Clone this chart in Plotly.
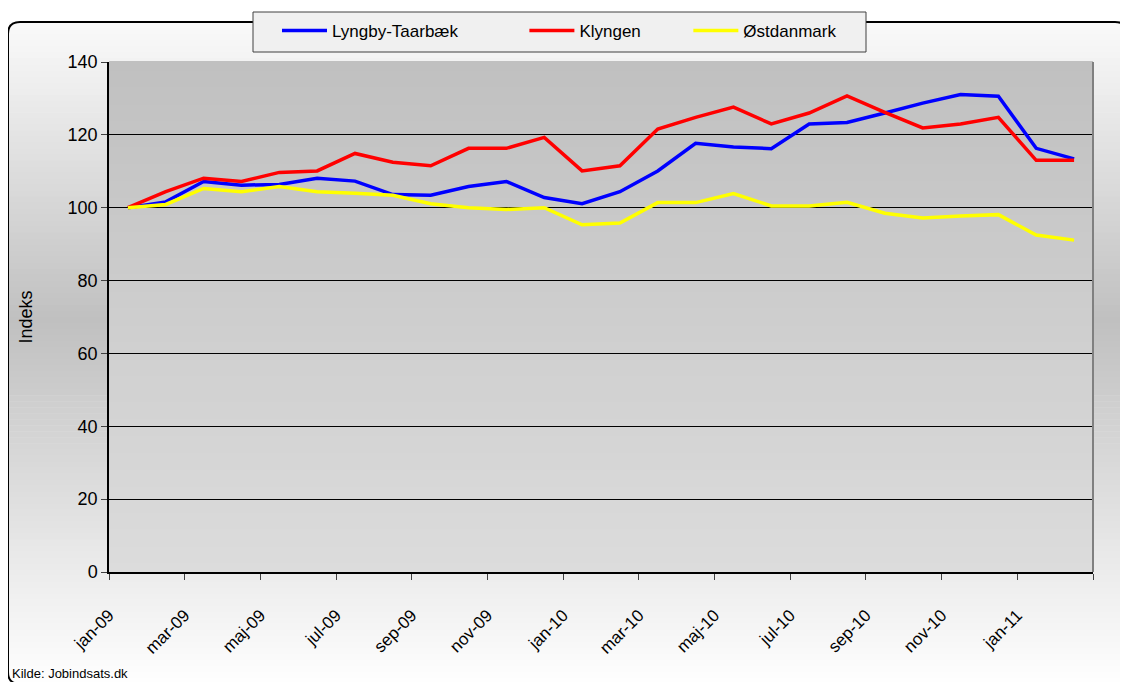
import plotly.graph_objects as go

months = ["jan-09", "feb-09", "mar-09", "apr-09", "maj-09", "jun-09", "jul-09", "aug-09",
          "sep-09", "okt-09", "nov-09", "dec-09", "jan-10", "feb-10", "mar-10", "apr-10",
          "maj-10", "jun-10", "jul-10", "aug-10", "sep-10", "okt-10", "nov-10", "dec-10",
          "jan-11", "feb-11"]

lyngby = [100, 101.6, 107.2, 106.2, 106.4, 108.1, 107.3, 103.6, 103.4, 105.8, 107.2, 102.8,
          101.1, 104.4, 110.1, 117.7, 116.7, 116.2, 123.0, 123.4, 126.0, 128.7, 131.1, 130.6,
          116.3, 113.4]
klyngen = [100, 104.4, 108.1, 107.2, 109.7, 110.1, 114.9, 112.5, 111.5, 116.3, 116.3, 119.3,
           110.1, 111.5, 121.6, 124.8, 127.6, 123.0, 126.0, 130.7, 126.2, 121.9, 123.0, 124.8,
           113.0, 113.0]
ostdanmark = [100, 100.9, 105.3, 104.4, 105.8, 104.4, 104.0, 103.4, 101.1, 100.0, 99.5, 100.0,
              95.3, 95.8, 101.4, 101.4, 103.9, 100.5, 100.5, 101.5, 98.5, 97.2, 97.7, 98.1,
              92.5, 91.1]

series_names = ["Lyngby-Taarbæk", "Klyngen", "Østdanmark"]
series_colors = ["#0000FF", "#FF0000", "#FFFF00"]
series_values = [lyngby, klyngen, ostdanmark]

y_ticks = [0, 20, 40, 60, 80, 100, 120, 140]
x_tick_labels = months[::2]

FONT = "Liberation Sans, Arial, sans-serif"
W, H = 1128, 682
OFF = 8  # page body margin
# plot area in window pixels: x 109..1093, y 62..572
PX0, PX1, PY0, PY1 = 109, 1093, 62, 572
PW, PH = PX1 - PX0, PY1 - PY0
L, T = PX0 - OFF, PY0 - OFF
R, B = W - L - PW, H - T - PH

def px2paper(px, py):
    return (px - PX0) / PW, (PY1 - py) / PH

x_idx = list(range(len(months)))
tickvals = [i - 0.5 for i in range(0, len(months) + 1, 2)]
ticktext = x_tick_labels + [""]

fig = go.Figure()
pads = ["\u00a0" * 13, "\u00a0" * 9, ""]
for name, color, vals, pad in zip(series_names, series_colors, series_values, pads):
    fig.add_trace(go.Scatter(x=x_idx, y=vals, mode="lines", name=name + pad,
                             line=dict(color=color, width=3.5)))

shapes = []

def lerp(c1, c2, t):
    return tuple(round(a + (b - a) * t) for a, b in zip(c1, c2))

# outer gradient (white -> gray -> white) inside rounded frame
top_px, bot_px, mid_px = 22, 684, 320
n = 110
for k in range(n):
    y0p = top_px + (bot_px - top_px) * k / n
    y1p = top_px + (bot_px - top_px) * (k + 1) / n
    yc = (y0p + y1p) / 2
    if yc < mid_px:
        t = (yc - top_px) / (mid_px - top_px)
        c = lerp((250, 250, 250), (192, 192, 192), t)
    else:
        t = (yc - mid_px) / (bot_px - mid_px)
        c = lerp((192, 192, 192), (255, 255, 255), t)
    xa, ya = px2paper(9, y0p)
    xb, yb = px2paper(1127, y1p + 0.6)
    shapes.append(dict(type="rect", xref="paper", yref="paper", x0=xa, x1=xb, y0=ya, y1=yb,
                       fillcolor="rgb(%d,%d,%d)" % c, line=dict(width=0), layer="below"))

# plot area gradient (darker top, lighter bottom)
n2 = 60
for k in range(n2):
    t = (k + 0.5) / n2
    c = lerp((220, 220, 220), (192, 192, 192), t)
    shapes.append(dict(type="rect", xref="paper", yref="paper", x0=0, x1=1,
                       y0=k / n2, y1=(k + 1) / n2 + 0.002,
                       fillcolor="rgb(%d,%d,%d)" % c, line=dict(width=0), layer="below"))

# rounded frame
r = 12
x0, y0, x1, y1 = 8, 22, 1127, 684
pts = {
    "a": px2paper(x0, y0 + r), "b": px2paper(x0, y0), "c": px2paper(x0 + r, y0),
    "d": px2paper(x1 - r, y0), "e": px2paper(x1, y0), "f": px2paper(x1, y0 + r),
    "g": px2paper(x1, y1 - r), "h": px2paper(x1, y1), "i": px2paper(x1 - r, y1),
    "j": px2paper(x0 + r, y1), "k": px2paper(x0, y1), "l": px2paper(x0, y1 - r),
}
def P(k):
    return "%f,%f" % pts[k]
path = ("M %s Q %s %s L %s Q %s %s L %s Q %s %s L %s Q %s %s Z" %
        (P("a"), P("b"), P("c"), P("d"), P("e"), P("f"), P("g"), P("h"), P("i"),
         P("j"), P("k"), P("l")))
shapes.append(dict(type="path", xref="paper", yref="paper", path=path,
                   line=dict(color="black", width=2), layer="above"))

# legend box
lx0, ly0 = px2paper(253, 12)
lx1, ly1 = px2paper(866, 52)
shapes.append(dict(type="rect", xref="paper", yref="paper", x0=lx0, x1=lx1, y0=ly1, y1=ly0,
                   fillcolor="#f0f0f0", line=dict(color="#404040", width=1), layer="above"))

fig.update_layout(
    width=W, height=H,
    margin=dict(l=L, r=R, t=T, b=B, autoexpand=False),
    paper_bgcolor="white",
    plot_bgcolor="rgba(0,0,0,0)",
    font=dict(family=FONT, color="black"),
    shapes=shapes,
    showlegend=True,
    legend=dict(orientation="h", x=px2paper(277, 0)[0], xanchor="left",
                y=px2paper(0, 31)[1], yanchor="middle", itemwidth=45,
                bgcolor="rgba(0,0,0,0)", borderwidth=0,
                font=dict(family=FONT, size=17, color="black")),
    xaxis=dict(range=[-0.5, len(months) - 0.5], tickmode="array", tickvals=tickvals,
               ticktext=ticktext, tickangle=-45, ticks="outside", ticklen=6,
               tickcolor="#404040", showgrid=False, zeroline=False, showline=True,
               linecolor="black", linewidth=1.5, tickfont=dict(family=FONT, size=17),
               ticklabelstandoff=19, mirror=False, automargin=False),
    yaxis=dict(range=[0, 140], tickmode="array", tickvals=y_ticks, ticks="outside",
               ticklen=6, tickcolor="#404040", showgrid=True, gridcolor="black",
               gridwidth=1, zeroline=False, showline=True, linecolor="black",
               linewidth=1.5, tickfont=dict(family=FONT, size=18), automargin=False,
               title=dict(text="Indeks", font=dict(family=FONT, size=18), standoff=30)),
    annotations=[dict(text="Kilde: Jobindsats.dk", xref="paper", yref="paper",
                      x=px2paper(10, 0)[0], y=px2paper(0, 673)[1], xanchor="left",
                      yanchor="middle", showarrow=False,
                      font=dict(family=FONT, size=13, color="black"))],
)
fig.add_shape(type="line", xref="paper", yref="paper", x0=1, x1=1, y0=0, y1=1,
              line=dict(color="#808080", width=2), layer="above")

fig.write_html("out.html")
